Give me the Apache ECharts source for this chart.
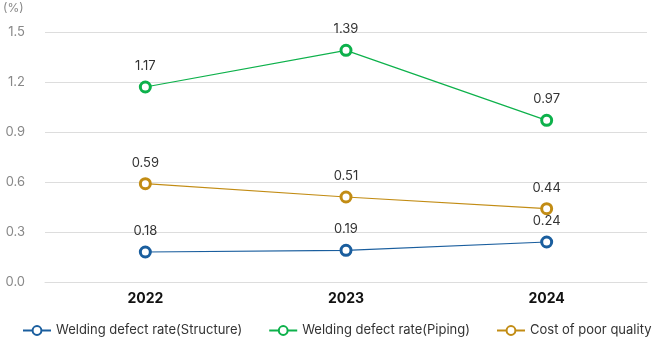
<!DOCTYPE html>
<html><head><meta charset="utf-8">
<script src="https://cdn.jsdelivr.net/npm/echarts@6/dist/echarts.min.js"></script>
<style>html,body{margin:0;padding:0;background:#fff}#c{width:661px;height:339px}</style>
</head><body><div id="c"></div>
<script>
const categories = ['2022', '2023', '2024'];
const structure = [0.18, 0.19, 0.24];
const piping = [1.17, 1.39, 0.97];
const poorQuality = [0.59, 0.51, 0.44];
const yTicks = [0, 0.3, 0.6, 0.9, 1.2, 1.5];

const font = 'Inter, "Noto Sans", sans-serif';
function mk(name, data, color) {
  return {
    name, type: 'line', data,
    symbol: 'circle', symbolSize: 10,
    lineStyle: { color, width: 1.2 },
    itemStyle: { color: '#fff', borderColor: color, borderWidth: 3 },
    label: { show: true, position: 'top', distance: 8, color: '#333', fontSize: 13, fontFamily: font,
      formatter: p => p.value.toFixed(2) }
  };
}
const chart = echarts.init(document.getElementById('c'));
chart.setOption({
  animation: false,
  grid: { left: 40, right: 14, top: 32, bottom: 57, containLabel: false },
  legend: {
    bottom: 2, left: 22, width: 639, padding: 0, itemWidth: 28, itemHeight: 11, itemGap: 26,
    textStyle: { color: '#333', fontSize: 13, fontFamily: font }
  },
  xAxis: {
    type: 'category', data: categories, boundaryGap: true,
    axisLine: { show: true, lineStyle: { color: '#ddd' } },
    axisTick: { show: false },
    axisLabel: { color: '#111', fontSize: 14, fontWeight: 'bold', fontFamily: font, margin: 10 }
  },
  yAxis: {
    type: 'value', min: 0, max: 1.5, interval: 0.3,
    name: '(%)', nameLocation: 'end', nameGap: 18,
    nameTextStyle: { color: '#888', fontSize: 12, fontFamily: font, align: 'left', padding: [0, 0, 0, -42] },
    axisLine: { show: false }, axisTick: { show: false },
    splitLine: { lineStyle: { color: '#ddd' } },
    axisLabel: { color: '#888', fontSize: 13, fontFamily: font, margin: 20,
      formatter: v => { const t = yTicks.find(x => Math.abs(x - v) < 1e-6); return (t !== undefined ? t : v).toFixed(1); } }
  },
  series: [
    mk('Welding defect rate(Structure)', structure, '#1a5e9e'),
    mk('Welding defect rate(Piping)', piping, '#0db14b'),
    mk('Cost of poor quality', poorQuality, '#c28c14')
  ]
});
</script></body></html>
